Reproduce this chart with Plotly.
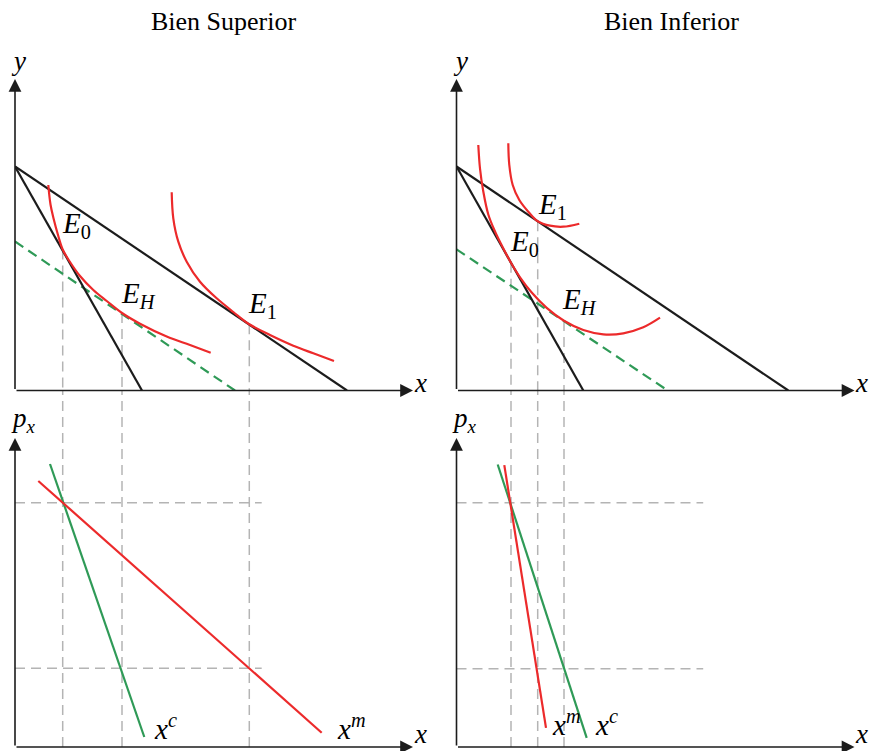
import plotly.graph_objects as go

# ---------------- data (diagram units) ----------------
titles = ["Bien Superior", "Bien Inferior"]

# Bien Superior - upper panel (x, y)
sup_budget0_x = [0, 12.7];  sup_budget0_y = [22.4, 0]
sup_budget1_x = [0, 33.2];  sup_budget1_y = [22.4, 0]
sup_comp_x = [0, 22.0];     sup_comp_y = [14.9, 0]
sup_ic0_x = [3.33, 3.55, 3.83, 4.33, 4.77, 5.5, 6.5, 7.83, 9.17, 10.7, 12.5, 15.17, 17.5, 19.57]
sup_ic0_y = [20.55, 18.6, 17.3, 15.45, 14.1, 12.85, 11.45, 10.05, 8.95, 7.75, 6.68, 5.4, 4.55, 3.78]
sup_ic1_x = [15.67, 15.83, 16.33, 17.17, 18.5, 20.17, 21.83, 23.43, 25.5, 27.83, 29.83, 31.9]
sup_ic1_y = [19.82, 17.22, 14.88, 12.88, 10.88, 9.22, 7.85, 6.62, 5.55, 4.48, 3.72, 2.95]
sup_eq_names = ["E0", "EH", "E1"]
sup_eq_x = [4.77, 10.7, 23.43]
sup_eq_y = [14.1, 7.75, 6.62]
sup_label_x = [6.17, 12.35, 24.75]
sup_label_y = [16.55, 9.55, 8.55]
# Bien Superior - lower panel (x, p_x)
sup_prices = [24.43, 7.87]
sup_dm_x = [2.33, 30.67];  sup_dm_y = [26.6, 1.43]
sup_dc_x = [3.5, 12.93];   sup_dc_y = [28.3, 1.0]
sup_dlabel_x = [33.6, 15.0]; sup_dlabel_y = [2.0, 2.0]

# Bien Inferior - upper panel
inf_budget0_x = [0, 12.68]; inf_budget0_y = [22.4, 0]
inf_budget1_x = [0, 33.18]; inf_budget1_y = [22.4, 0]
inf_comp_x = [0, 21.12];    inf_comp_y = [14.12, 0]
inf_ic0_x = [2.18, 2.35, 2.68, 3.18, 3.85, 4.62, 5.45, 6.35, 7.52, 9.02, 10.75, 12.68, 14.68, 16.68, 18.68, 20.35]
inf_ic0_y = [24.55, 22.2, 19.9, 17.6, 15.9, 14.32, 12.77, 11.32, 9.8, 8.27, 6.98, 6.05, 5.62, 5.72, 6.32, 7.28]
inf_ic1_x = [5.18, 5.28, 5.62, 6.28, 7.18, 8.12, 9.35, 10.68, 12.28]
inf_ic1_y = [24.72, 22.55, 20.55, 19.05, 17.88, 16.93, 16.48, 16.38, 16.68]
inf_eq_names = ["E0", "EH", "E1"]
inf_eq_x = [5.45, 10.75, 8.12]
inf_eq_y = [12.77, 6.95, 16.93]
inf_label_x = [6.77, 12.27, 9.63]
inf_label_y = [14.8, 8.97, 18.47]
# Bien Inferior - lower panel
inf_prices = [24.42, 7.82]
inf_dm_x = [4.78, 8.95];  inf_dm_y = [28.18, 1.92]
inf_dc_x = [4.12, 13.02]; inf_dc_y = [28.25, 0.92]
inf_dlabel_x = [11.0, 14.95]; inf_dlabel_y = [2.45, 2.45]

price_line_end = 24.67
label_text = {"E0": "<i>E</i><sub>0</sub>", "EH": "<i>E<sub>H</sub></i>", "E1": "<i>E</i><sub>1</sub>"}

# ---------------- styling ----------------
OFF = 8                      # default page margin of the html body
W, H = 877 - OFF, 751 - OFF  # figure size so that it fits the window
RED = "#ec2a2b"
GREEN = "#2f9a57"
BLACK = "#1c1c1c"
GRAY = "#b4b4b4"
FONT = "Liberation Serif, Times New Roman, DejaVu Serif, serif"

X_RANGE = [0, 42]
TOP_RANGE = [0, 35]
BOT_RANGE = [0, 35.65]

fig = go.Figure()


def add_line(xs, ys, ax, color, width=2, dash="solid", shape="linear"):
    xa, ya = ax
    fig.add_trace(go.Scatter(x=xs, y=ys, xaxis=xa, yaxis=ya, mode="lines",
                             line=dict(color=color, width=width, dash=dash, shape=shape, smoothing=1.0),
                             hoverinfo="skip", showlegend=False))


panels = {
    "sup_top": ("x", "y"), "inf_top": ("x2", "y2"),
    "sup_bot": ("x3", "y3"), "inf_bot": ("x4", "y4"),
}

gray_dash = "10px,6px"
green_dash = "10px,6px"

for side in ["sup", "inf"]:
    top = panels[side + "_top"]
    bot = panels[side + "_bot"]
    d = globals()
    eq_x = d[side + "_eq_x"]; eq_y = d[side + "_eq_y"]
    for ex, ey in zip(eq_x, eq_y):
        add_line([ex, ex], [ey, 0], top, GRAY, 1.5, gray_dash)
        add_line([ex, ex], [0, BOT_RANGE[1]], bot, GRAY, 1.5, gray_dash)
    for p in d[side + "_prices"]:
        add_line([0, price_line_end], [p, p], bot, GRAY, 1.5, gray_dash)
    add_line(d[side + "_comp_x"], d[side + "_comp_y"], top, GREEN, 2.2, green_dash)
    add_line(d[side + "_budget0_x"], d[side + "_budget0_y"], top, BLACK, 2.2)
    add_line(d[side + "_budget1_x"], d[side + "_budget1_y"], top, BLACK, 2.2)
    add_line(d[side + "_ic0_x"], d[side + "_ic0_y"], top, RED, 2.2, shape="spline")
    add_line(d[side + "_ic1_x"], d[side + "_ic1_y"], top, RED, 2.2, shape="spline")
    add_line(d[side + "_dc_x"], d[side + "_dc_y"], bot, GREEN, 2.2)
    add_line(d[side + "_dm_x"], d[side + "_dm_y"], bot, RED, 2.2)

annotations = []


def txt(x, y, text, ax, size=29):
    xa, ya = ax
    annotations.append(dict(x=x, y=y, xref=xa, yref=ya, text=text, showarrow=False,
                            font=dict(family=FONT, size=size, color="black"),
                            xanchor="center", yanchor="middle"))


def arrow(x, y, ax):
    xa, ya = ax
    annotations.append(dict(x=x, y=y, ax=0, ay=0, xref=xa, yref=ya, axref=xa, ayref=ya,
                            text="", showarrow=True, arrowhead=2, arrowsize=1.6,
                            arrowwidth=1.6, arrowcolor=BLACK, standoff=0))


for side in ["sup", "inf"]:
    top = panels[side + "_top"]
    bot = panels[side + "_bot"]
    d = globals()
    for name, lx, ly in zip(d[side + "_eq_names"], d[side + "_label_x"], d[side + "_label_y"]):
        txt(lx, ly, label_text[name], top)
    dl_x = d[side + "_dlabel_x"]; dl_y = d[side + "_dlabel_y"]
    txt(dl_x[0], dl_y[0], "<i>x<sup>m</sup></i>", bot)
    txt(dl_x[1], dl_y[1], "<i>x<sup>c</sup></i>", bot)
    arrow(39.8, 0, top); arrow(0, 31.15, top)
    arrow(39.8, 0, bot); arrow(0, 30.9, bot)
    txt(40.5, 0.75, "<i>x</i>", top, 27)
    txt(0.35, 33.0, "<i>y</i>", top, 27)
    txt(40.5, 1.3, "<i>x</i>", bot, 27)
    txt(0.8, 32.7, "<i>p<sub>x</sub></i>", bot, 27)

for t, cx in zip(titles, [223, 671]):
    annotations.append(dict(x=(cx - OFF) / W, y=1 - (22 - OFF) / H, xref="paper", yref="paper", text=t,
                            showarrow=False, font=dict(family=FONT, size=26, color="black"),
                            xanchor="center", yanchor="middle"))


def xdom(p0, p1):
    return [(p0 - OFF) / W, (p1 - OFF) / W]


def ydom(pb, pt):
    return [1 - (pb - OFF) / H, 1 - (pt - OFF) / H]


axis_style = dict(showgrid=False, zeroline=False, showticklabels=False, showline=False,
                  ticks="", fixedrange=True)

fig.update_layout(
    width=W, height=H,
    margin=dict(l=0, r=0, t=0, b=0),
    paper_bgcolor="white", plot_bgcolor="rgba(0,0,0,0)",
    showlegend=False,
    xaxis=dict(domain=xdom(15, 435), range=X_RANGE, anchor="y", **axis_style),
    yaxis=dict(domain=ydom(390.5, 40.5), range=TOP_RANGE, anchor="x", **axis_style),
    xaxis2=dict(domain=xdom(456.5, 876.5), range=X_RANGE, anchor="y2", **axis_style),
    yaxis2=dict(domain=ydom(390.5, 40.5), range=TOP_RANGE, anchor="x2", **axis_style),
    xaxis3=dict(domain=xdom(15, 435), range=X_RANGE, anchor="y3", **axis_style),
    yaxis3=dict(domain=ydom(747, 390.5), range=BOT_RANGE, anchor="x3", **axis_style),
    xaxis4=dict(domain=xdom(456.5, 876.5), range=X_RANGE, anchor="y4", **axis_style),
    yaxis4=dict(domain=ydom(747, 390.5), range=BOT_RANGE, anchor="x4", **axis_style),
    annotations=annotations,
)

fig.write_html("out.html")
